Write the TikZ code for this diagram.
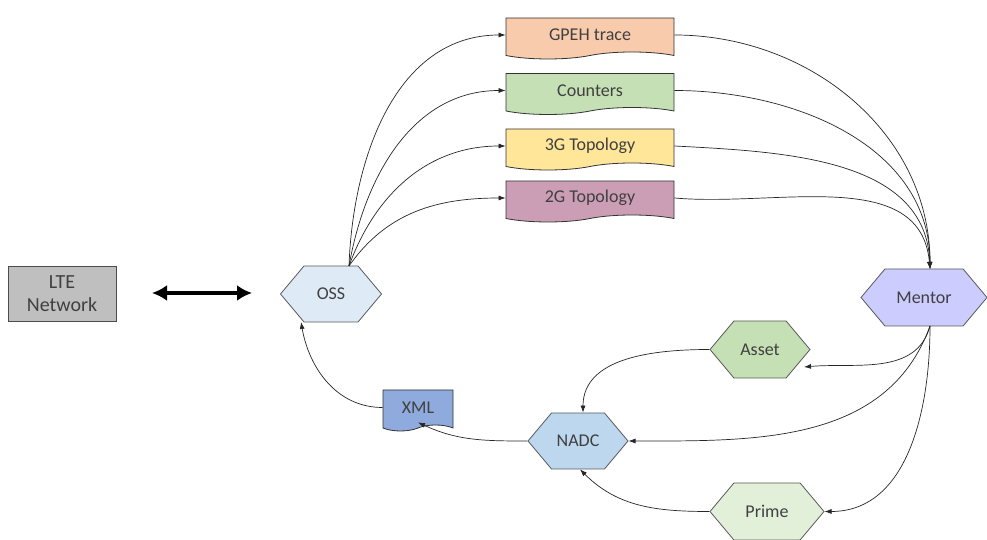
\documentclass[tikz,border=0pt]{standalone}
\usepackage{fontspec}
\setmainfont{Carlito}
\usetikzlibrary{shapes.symbols,arrows.meta,calc}
\definecolor{txt}{HTML}{404040}
\definecolor{cLTE}{HTML}{BFBFBF}
\definecolor{cOSS}{HTML}{DEEBF7}
\definecolor{cGPEH}{HTML}{F8CBAD}
\definecolor{cCnt}{HTML}{C5E0B4}
\definecolor{cThree}{HTML}{FFE699}
\definecolor{cTwo}{HTML}{CC9EB5}
\definecolor{cMentor}{HTML}{CCCCFF}
\definecolor{cAsset}{HTML}{C5E0B4}
\definecolor{cNADC}{HTML}{BDD7EE}
\definecolor{cPrime}{HTML}{E2F0D9}
\definecolor{cXML}{HTML}{8FAADC}
\tikzset{
  lbl/.style={font=\fontsize{18}{21}\selectfont, text=txt},
  hexa/.style={lbl, shape=signal, signal to=west and east, signal pointer angle=100,
     draw=black!65, line width=0.8pt, inner sep=0pt, minimum height=56pt},
  docu/.style={lbl, shape=tape, tape bend top=none, tape bend bottom=in and out,
     tape bend height=7pt, draw=black!80, line width=0.8pt, inner sep=0pt,
     minimum width=168pt, minimum height=41pt},
  conn/.style={black!85, line width=0.7pt, -{Latex[length=7pt,width=5pt]}}
}
\begin{document}
\begin{tikzpicture}[x=1pt,y=1pt]
\useasboundingbox (0,0) rectangle (987,540);
% nodes
\node[lbl, draw=black!70, fill=cLTE, line width=0.8pt, minimum width=108pt, minimum height=55pt,
      align=center, font=\fontsize{20}{23}\selectfont] (lte) at (62,246.5) {LTE\\Network};
\node[hexa, fill=cOSS, minimum width=101pt] (oss) at (331,246) {OSS};
\node[docu, fill=cGPEH] (gpeh) at (590,505) {GPEH trace};
\node[docu, fill=cCnt] (cnt) at (590,449.5) {Counters};
\node[docu, fill=cThree] (three) at (590,394) {3G Topology};
\node[docu, fill=cTwo] (two) at (590,342) {2G Topology};
\node[hexa, fill=cMentor, minimum width=126pt, minimum height=57pt] (mentor) at (924,242.5) {Mentor};
\node[hexa, fill=cAsset, minimum width=100pt, minimum height=57pt] (asset) at (760,190.5) {Asset};
\node[hexa, fill=cNADC, minimum width=100pt] (nadc) at (578,99) {NADC};
\node[hexa, fill=cPrime, minimum width=114pt, minimum height=57pt] (prime) at (767,28.5) {Prime};
\node[docu, fill=cXML, minimum width=70pt, tape bend height=6pt] (xml) at (418,132.5) {XML};
% coordinates
\coordinate (ossout) at (349,274);
\coordinate (mtop) at (930,271);
\coordinate (mbot) at (930,214);
\coordinate (lteR) at (152,247);
\coordinate (ossL) at (252,247);
\coordinate (assetin) at (804,173);
\coordinate (ossin) at (301,218);
% double arrow
\draw[line width=4pt, {Latex[length=15pt,width=16pt]}-{Latex[length=15pt,width=16pt]}] (lteR) -- (ossL);
% OSS to documents
\draw[conn] (ossout) to[out=88,in=180] (gpeh.west);
\draw[conn] (ossout) to[out=80,in=180] (cnt.west);
\draw[conn] (ossout) to[out=70,in=180] (three.west);
\draw[conn] (ossout) to[out=55,in=180] (two.west);
% documents to Mentor
\draw[conn] (gpeh.east) to[out=0,in=90] (mtop);
\draw[conn] (cnt.east) to[out=0,in=90] (mtop);
\draw[conn] (three.east) to[out=-3,in=92] (mtop);
\draw[conn] (two.east) to[out=-5,in=95] (mtop);
% Mentor outputs
\draw[conn] (mbot) to[out=-105,in=5] (assetin);
\draw[conn] (mbot) to[out=-110,in=0] (nadc.east);
\draw[conn] (mbot) to[out=-90,in=0] (prime.east);
% to NADC
\draw[conn] (asset.west) to[out=180,in=90] ($(nadc.north)+(5,0)$);
\draw[conn] (prime.west) to[out=180,in=-45] ($(nadc.south)+(2,0)$);
% NADC to XML, XML to OSS
\draw[conn] (nadc.west) to[out=180,in=-25] ($(xml.south)+(0,3)$);
\draw[conn] (xml.west) to[out=180,in=-80] (ossin);
\end{tikzpicture}
\end{document}
